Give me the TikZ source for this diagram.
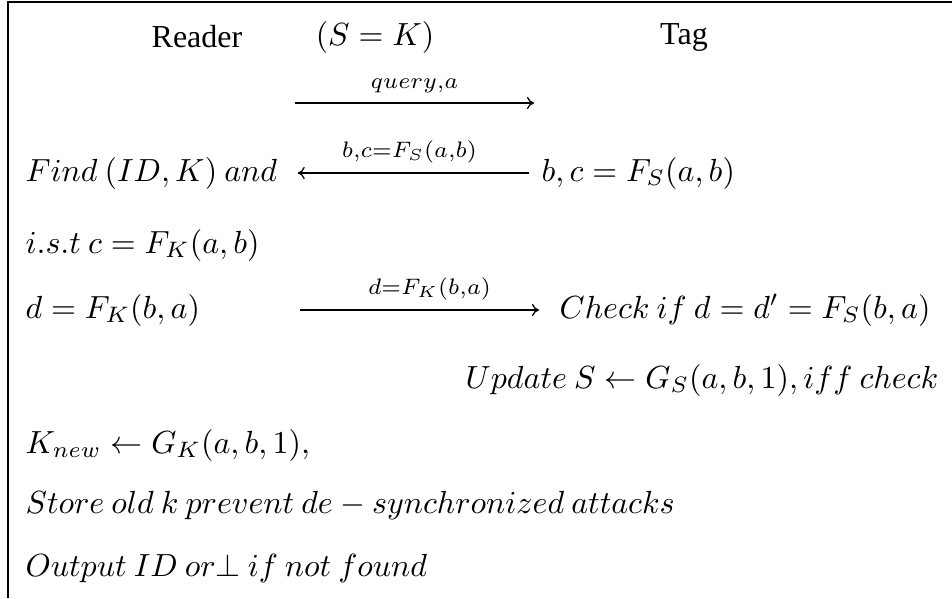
\documentclass[tikz,border=0pt]{standalone}
\usepackage[no-math]{fontspec}
\newfontfamily\partyfont{Liberation Serif}
\usetikzlibrary{positioning,arrows.meta}
\tikzstyle{msg} = [draw, -{To[length=2.2pt,width=3.8pt]}, line width=0.4pt]
\tikzstyle{frame} = [draw, line width=0.4pt]
\tikzstyle{party} = [font=\normalsize\partyfont]
\tikzstyle{lhs} = [anchor=west]
\tikzstyle{rhs} = [anchor=west]
\tikzstyle{lbl} = [above=3pt]

\begin{document}
\begin{tikzpicture} [x=0.3125pt, y=-0.3125pt, every node/.style={inner sep=0pt, font=\normalsize}]
\useasboundingbox (0,0) rectangle (952,598);

% Frame

\draw[frame] (952,2) -- (8,2) -- (8,598);

% Header

\node[party] (reader) at (197,37) {Reader};

\node (shared) at (375,37) {$(S=K)$};

\node[party] (tag) at (684,37) {Tag};

% Query

\coordinate (q0) at (295,103);

\coordinate (q1) at (534,103);

\draw[msg] (q0) -- node[lbl] (qlbl) {$\scriptstyle query,a$} (q1);

% Tag answer

\node[lhs] (find) at (25,173) {$Find\:(ID,K)\:and$};

\node[rhs] (answer) at (541,173) {$b,c=F_S(a,b)$};

\draw[msg, shorten <=3.75pt, shorten >=6.25pt] (answer.west) -- node[lbl] (albl) {$\scriptstyle b,c=F_S(a,b)$} (find.east);

\node[lhs] (ist) at (25,245) {$i.s.t\:c=F_K(a,b)$};

% Reader answer

\node[lhs] (dval) at (25,310) {$d=F_K(b,a)$};

\node[rhs] (check) at (559,310) {$Check\:if\:d=d'=F_S(b,a)$};

\coordinate (d0) at (300,310);

\draw[msg, shorten >=6.25pt] (d0) -- node[lbl] (dlbl) {$\scriptstyle d=F_K(b,a)$} (check.west);

% Updates

\node[anchor=east] (update) at (939,380) {$Update\:S\leftarrow G_S(a,b,1),iff\:check$};

\node[lhs] (knew) at (25,445) {$K_{new}\leftarrow G_K(a,b,1),$};

\node[lhs] (store) at (25,505) {$Store\:old\:k\:prevent\:de-synchronized\:attacks$};

\node[lhs] (output) at (25,568) {$Output\:ID\:or{\perp}\:if\:not\:found$};

\end{tikzpicture}
\end{document}
